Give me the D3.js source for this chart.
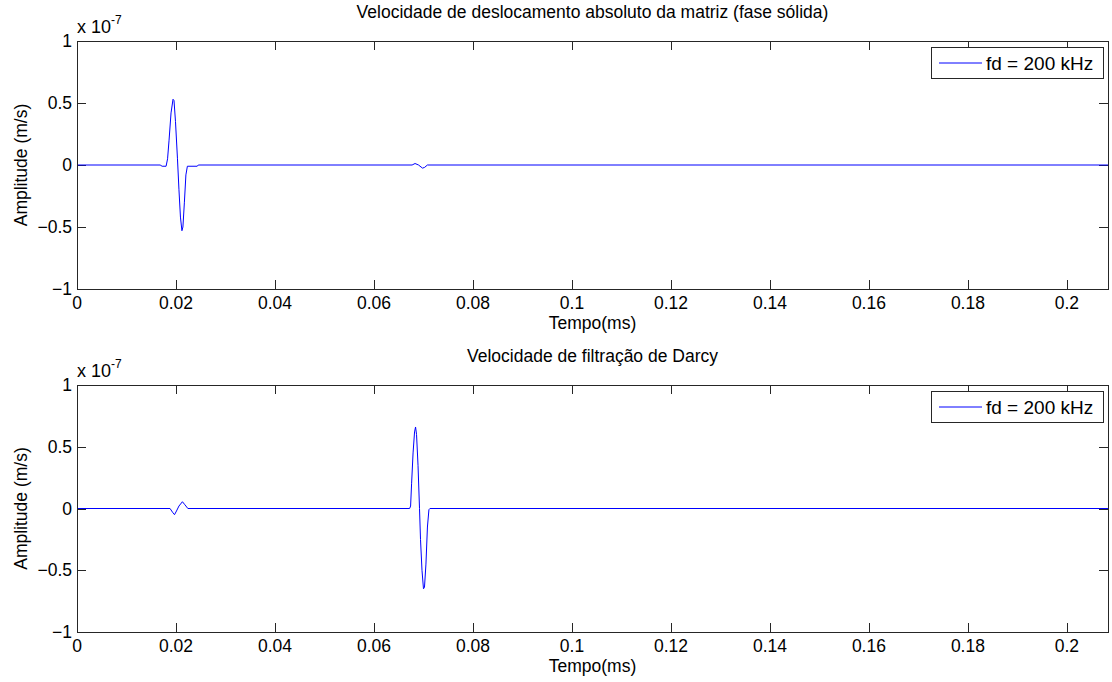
<!DOCTYPE html>
<html>
<head>
<meta charset="utf-8">
<script src="https://cdn.jsdelivr.net/npm/d3@7"></script>
<style>
  body { margin: 0; background: #fff; }
  svg text { font-family: "Liberation Sans", Arial, sans-serif; fill: #000; }
</style>
</head>
<body>
<div id="chart"></div>
<script>
// time in ms, amplitude in units of 1e-7 m/s
const solidT = [0, 0.0168, 0.0172, 0.0180, 0.0183, 0.0186, 0.0190, 0.0194, 0.0196, 0.0199, 0.0203, 0.0206, 0.0209, 0.0212, 0.0214, 0.0217, 0.0220, 0.0223, 0.0243, 0.0245, 0.0677, 0.0683, 0.0690, 0.0698, 0.0702, 0.0708, 0.2083];
const solidV = [0, 0, -0.01, -0.01, 0.05, 0.2, 0.42, 0.53, 0.52, 0.35, 0.05, -0.2, -0.42, -0.53, -0.5, -0.3, -0.08, -0.01, -0.01, 0, 0, 0.012, 0, -0.025, -0.02, 0, 0];

const darcyT = [0, 0.0188, 0.0193, 0.0197, 0.0201, 0.0206, 0.0213, 0.0218, 0.0224, 0.0672, 0.0674, 0.0676, 0.0679, 0.0682, 0.0684, 0.0686, 0.0689, 0.0692, 0.0694, 0.0697, 0.0700, 0.0702, 0.0705, 0.0708, 0.0711, 0.0713, 0.2083];
const darcyV = [0, 0, -0.03, -0.05, -0.02, 0.02, 0.055, 0.03, 0, 0, 0.02, 0.2, 0.45, 0.62, 0.66, 0.6, 0.35, 0, -0.25, -0.5, -0.65, -0.64, -0.45, -0.15, -0.01, 0, 0];

const xTicks = [0, 0.02, 0.04, 0.06, 0.08, 0.1, 0.12, 0.14, 0.16, 0.18, 0.2];
const yTicks = [-1, -0.5, 0, 0.5, 1];
const titles = ["Velocidade de deslocamento absoluto da matriz (fase sólida)", "Velocidade de filtração de Darcy"];
const legendLabel = "fd = 200 kHz";

const width = 1112, height = 682;
const svg = d3.select("#chart").append("svg")
  .attr("width", width).attr("height", height);

const left = 77, right = 1108;
const panels = [
  { top: 41, bottom: 289, t: solidT, v: solidV, title: titles[0] },
  { top: 385, bottom: 632, t: darcyT, v: darcyV, title: titles[1] }
];

const x = d3.scaleLinear().domain([0, 0.2083]).range([left, right]);

panels.forEach(p => {
  const y = d3.scaleLinear().domain([-1, 1]).range([p.bottom, p.top]);
  const g = svg.append("g");

  // ticks inside, on all four sides
  const tk = 9;
  const tickG = g.append("g").attr("stroke", "#262626").attr("stroke-width", 1);
  xTicks.forEach(t => {
    const xx = Math.round(x(t)) + 0.5;
    tickG.append("line").attr("x1", xx).attr("x2", xx).attr("y1", p.bottom).attr("y2", p.bottom - tk);
    tickG.append("line").attr("x1", xx).attr("x2", xx).attr("y1", p.top).attr("y2", p.top + tk);
  });
  yTicks.forEach(t => {
    const yy = Math.round(y(t)) + 0.5;
    tickG.append("line").attr("x1", left).attr("x2", left + tk).attr("y1", yy).attr("y2", yy);
    tickG.append("line").attr("x1", right).attr("x2", right - tk).attr("y1", yy).attr("y2", yy);
  });

  // signal
  const line = d3.line().x((d, i) => x(p.t[i])).y(d => y(d));
  g.append("path").datum(p.v)
    .attr("d", line)
    .attr("fill", "none")
    .attr("stroke", "#0000ff")
    .attr("stroke-width", 1);

  // frame
  g.append("rect")
    .attr("x", left + 0.5).attr("y", p.top + 0.5)
    .attr("width", right - left).attr("height", p.bottom - p.top)
    .attr("fill", "none").attr("stroke", "#262626");

  // tick labels
  xTicks.forEach(t => {
    g.append("text").attr("x", x(t)).attr("y", p.bottom + 20)
      .attr("text-anchor", "middle").attr("font-size", 17.5)
      .text(d3.format("~g")(t));
  });
  yTicks.forEach(t => {
    g.append("text").attr("x", left - 5).attr("y", y(t) + 6)
      .attr("text-anchor", "end").attr("font-size", 17.5)
      .text(d3.format("~g")(t));
  });

  // exponent
  const ex = g.append("text").attr("x", left).attr("y", p.top - 8).attr("font-size", 18);
  ex.append("tspan").text("x 10");
  ex.append("tspan").attr("dy", -9).attr("font-size", 12).text("-7");

  // title
  g.append("text").attr("x", (left + right) / 2).attr("y", p.top - 23)
    .attr("text-anchor", "middle").attr("font-size", 17.5).text(p.title);

  // x label
  g.append("text").attr("x", (left + right) / 2).attr("y", p.bottom + 40)
    .attr("text-anchor", "middle").attr("font-size", 17.5).text("Tempo(ms)");

  // y label
  g.append("text")
    .attr("transform", `translate(27,${(p.top + p.bottom) / 2}) rotate(-90)`)
    .attr("text-anchor", "middle").attr("font-size", 17.5).text("Amplitude (m/s)");

  // legend
  const lx = 931, ly = p.top + 6;
  g.append("rect").attr("x", lx + 0.5).attr("y", ly + 0.5)
    .attr("width", 172).attr("height", 31)
    .attr("fill", "#fff").attr("stroke", "#262626");
  g.append("line").attr("x1", lx + 8).attr("x2", lx + 51)
    .attr("y1", ly + 16).attr("y2", ly + 16)
    .attr("stroke", "#0000ff").attr("stroke-width", 1);
  g.append("text").attr("x", lx + 55).attr("y", ly + 23)
    .attr("font-size", 19).text(legendLabel);
});
</script>
</body>
</html>
